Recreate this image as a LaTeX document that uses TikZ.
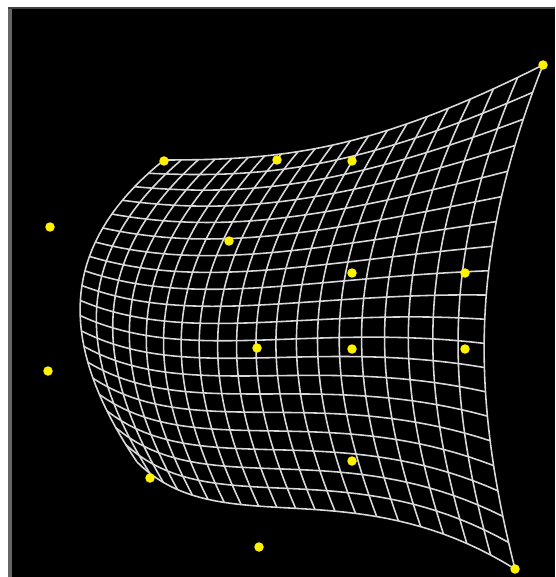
\documentclass[tikz,border=0pt]{standalone}
\usepackage{tikz}
\usetikzlibrary{calc,positioning}

\begin{document}
\begin{tikzpicture}[
        x=0.02cm, y=-0.02cm,
        meshline/.style={
            draw=white!85!black, line width=0.9pt, line join=round
        },
        landmark/.style={
            circle, fill=yellow, inner sep=0pt, minimum size=1.9mm
        },
        declare function={
            bz(\t,\a,\b,\c,\d)=(1-\t)*(1-\t)*(1-\t)*\a+3*(1-\t)*(1-\t)*\t*\b+3*(1-\t)*\t*\t*\c+\t*\t*\t*\d;
            topx(\s)=bz(\s,164,281,370,543);
            topy(\s)=bz(\s,160,160,152,65);
            botx(\s)=bz(\s,137,220,351,515);
            boty(\s)=bz(\s,462,545,467,569);
            lefx(\s)=bz(\s,164,55,59,137);
            lefy(\s)=bz(\s,160,248,346,462);
            rigx(\s)=bz(\s,543,470,470,515);
            rigy(\s)=bz(\s,65,250,390,569);
            gx(\s,\r)=(1-\r)*topx(\s)+\r*botx(\s)+(1-\s)*lefx(\r)+\s*rigx(\r)-((1-\s)*(1-\r)*164+\s*(1-\r)*543+(1-\s)*\r*137+\s*\r*515);
            gy(\s,\r)=(1-\r)*topy(\s)+\r*boty(\s)+(1-\s)*lefy(\r)+\s*rigy(\r)-((1-\s)*(1-\r)*160+\s*(1-\r)*65+(1-\s)*\r*462+\s*\r*569);
        }
    ]

    % Canvas and frame
    \useasboundingbox (0,0) rectangle (555,577);
    \fill[white] (0,0) rectangle (555,577);
    \fill[black] (12,9) rectangle (555,577);
    \fill[black!60] (8,8) rectangle (12,577);
    \fill[black!75] (8,7) rectangle (555,9);

    % Warped mesh: rows
    \foreach \k in {0,...,20} {
        \pgfmathsetmacro\q{\k/20}
        \draw[meshline] plot[domain=0:1, samples=41] ({gx(\x,\q)},{gy(\x,\q)});
    }

    % Warped mesh: columns
    \foreach \k in {0,...,20} {
        \pgfmathsetmacro\q{\k/20}
        \draw[meshline] plot[domain=0:1, samples=41] ({gx(\q,\x)},{gy(\q,\x)});
    }

    % Landmarks
    \node[landmark] (lmA) at (164,161) {};
    \node[landmark] (lmB) at (277,160) {};
    \node[landmark] (lmC) at (352,161) {};
    \node[landmark] (lmD) at (543,65) {};
    \node[landmark] (lmE) at (50,227) {};
    \node[landmark] (lmF) at (229,241) {};
    \node[landmark] (lmG) at (352,273) {};
    \node[landmark] (lmH) at (465,273) {};
    \node[landmark] (lmI) at (48,371) {};
    \node[landmark] (lmJ) at (257,348) {};
    \node[landmark] (lmK) at (352,349) {};
    \node[landmark] (lmL) at (465,349) {};
    \node[landmark] (lmM) at (352,461) {};
    \node[landmark] (lmN) at (150,478) {};
    \node[landmark] (lmO) at (259,547) {};
    \node[landmark] (lmP) at (515,569) {};

\end{tikzpicture}
\end{document}
